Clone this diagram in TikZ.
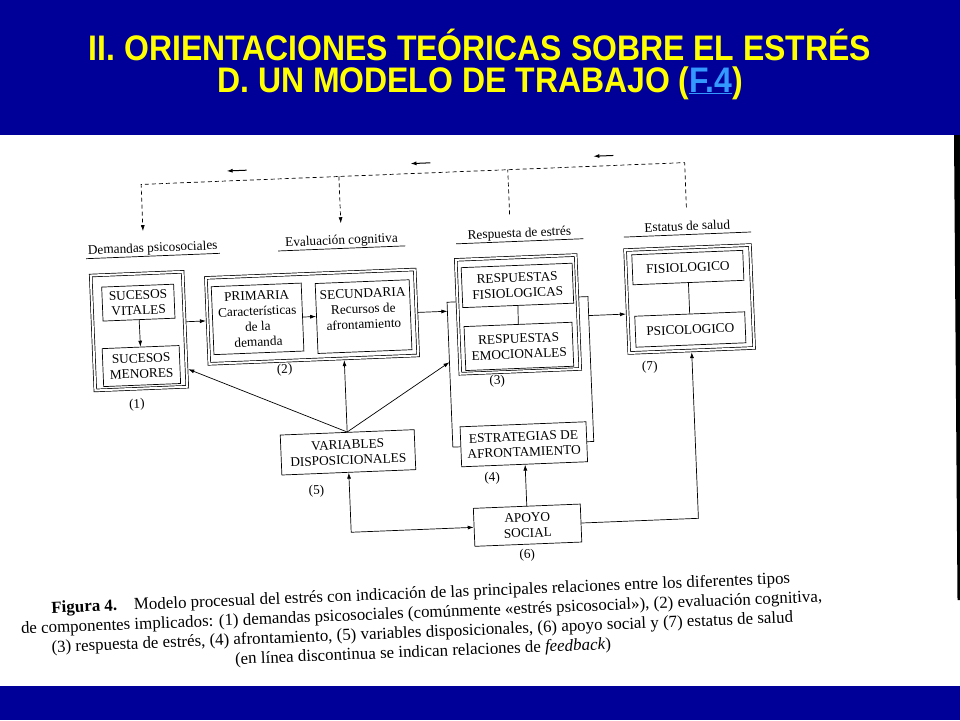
\documentclass[tikz,border=0pt]{standalone}
\usepackage{fontspec}
\usepackage{tikz}
\usetikzlibrary{arrows.meta}

\setmainfont{Liberation Serif}
\newfontfamily\titlefont[FakeStretch=0.9]{Liberation Sans}
\newfontfamily\capfont{Liberation Serif}

\definecolor{slideblue}{RGB}{0,0,153}
\definecolor{linkblue}{RGB}{51,153,255}
\definecolor{titleyellow}{RGB}{255,255,0}

\newcommand\diagfont{\fontsize{13.3}{15.5}\selectfont}

\tikzset{
  bigframe/.style={draw=black, double=white, double distance=2pt, line width=0.7pt, inner sep=0pt, outer sep=1.7pt},
  inbox/.style={draw=black, line width=0.7pt, align=center, inner sep=2pt, font=\diagfont},
  lbl/.style={font=\diagfont, anchor=base, inner sep=2pt, minimum width=127, text height=9pt, text depth=3pt},
  num/.style={font=\diagfont, inner sep=1pt},
  conn/.style={line width=0.7pt},
  fb/.style={conn, dash pattern=on 4pt off 3pt},
  dirarrow/.style={line width=1pt, -{Latex[length=6pt,width=4pt]}},
  titletext/.style={font=\titlefont\bfseries\fontsize{35.5}{40}\selectfont, text=titleyellow, inner sep=0pt},
  capnode/.style={font=\capfont\fontsize{16.9}{19.5}\selectfont, align=center, inner sep=0pt}
}

\begin{document}
\begin{tikzpicture}[x=1pt, y=-1pt, >={Latex[length=6pt,width=4pt]}]

  \useasboundingbox (0,0) rectangle (960,720);
  \fill[slideblue] (0,0) rectangle (960,135);
  \fill[slideblue] (0,686) rectangle (960,720);
  \fill[black] (954,135) -- (960,135) -- (960,600) -- (957.5,600) -- cycle;

  \node[titletext] (title1) at (480,45) {II. ORIENTACIONES TEÓRICAS SOBRE EL ESTRÉS};
  \node[titletext] (title2) at (480,83) {D. UN MODELO DE TRABAJO ({\color{linkblue}\underline{F.4}})};

  \begin{scope}[rotate around={2.3:(480,400)}, transform shape]

  \node[lbl] (demlbl) at (159,239) {Demandas psicosociales};
  \node[lbl] (evalbl) at (348,239) {Evaluación cognitiva};
  \node[lbl] (reslbl) at (526,239) {Respuesta de estrés};
  \node[lbl] (estlbl) at (694,239) {Estatus de salud};
  \foreach \l in {demlbl,evalbl,reslbl,estlbl}
    \draw[conn] ([yshift=-4pt]\l.base west) -- ([yshift=-4pt]\l.base east);

  \node[bigframe, minimum width=92, minimum height=115] (dembox) at (142,317.5) {};
  \node[inbox, minimum width=72, minimum height=34] (vitales) at (142.5,289) {SUCESOS\\VITALES};
  \node[inbox, minimum width=77, minimum height=38] (menores) at (143,352.5) {SUCESOS\\MENORES};
  \node[num] at (137,391) {(1)};

  \node[bigframe, minimum width=209, minimum height=86] (evabox) at (315.5,310) {};
  \node[inbox, minimum width=90, minimum height=68] (primaria) at (261,310) {PRIMARIA\\Características\\de la\\demanda};
  \node[inbox, minimum width=94, minimum height=70] (secundaria) at (367,312) {SECUNDARIA\\Recursos de\\afrontamiento\\\mbox{}};
  \node[num] at (286,362) {(2)};

  \node[bigframe, minimum width=120, minimum height=114] (resbox) at (521.4,316) {};
  \node[inbox, minimum width=111, minimum height=40] (fisresp) at (522,287) {RESPUESTAS\\FISIOLOGICAS};
  \node[inbox, minimum width=108, minimum height=44] (emoresp) at (521,348) {RESPUESTAS\\EMOCIONALES};
  \node[num] at (498,382) {(3)};

  \node[inbox, minimum width=126, minimum height=40] (estrat) at (522,446) {ESTRATEGIAS DE\\AFRONTAMIENTO};
  \node[num] at (489,478.5) {(4)};

  \node[bigframe, minimum width=125, minimum height=103] (salbox) at (693.5,307.5) {};
  \node[inbox, minimum width=111, minimum height=30] (fisio) at (693,276) {FISIOLOGICO};
  \node[inbox, minimum width=110, minimum height=31] (psico) at (693,338) {PSICOLOGICO};
  \node[num] at (651,374) {(7)};

  \node[inbox, minimum width=134, minimum height=40] (varsdisp) at (346,447) {VARIABLES\\DISPOSICIONALES};
  \node[num] at (313,484.5) {(5)};

  \node[inbox, minimum width=107, minimum height=38] (apoyo) at (522.5,527) {APOYO\\SOCIAL};
  \node[num] at (521,557) {(6)};

  \coordinate (fbtop) at (0,171);
  \coordinate (brtl) at (451,301);
  \coordinate (brtr) at (592,301);
  \coordinate (brin) at (451,361);
  \coordinate (brout) at (592,320);

  \draw[conn] (resbox.west |- brtl) -- (brtl) |- (estrat.west);
  \draw[conn] (resbox.east |- brtr) -- (brtr) |- (estrat.east);

  \draw[conn,->] (vitales) -- (menores);
  \draw[conn,->] (dembox.east |- evabox) -- (evabox.west);
  \draw[conn,->] (primaria.east) -- (primaria.east -| secundaria.west);
  \draw[conn,->] (evabox.east) -- (evabox.east -| brtl);
  \draw[conn,->] (brout) -- (brout -| salbox.west);
  \draw[conn] (fisresp) -- (emoresp);
  \draw[conn] (fisio) -- (psico);

  \draw[conn,->] (varsdisp.north) -- ([yshift=-5pt]dembox.east |- menores);
  \draw[conn,->] (varsdisp.north) -- (varsdisp.north |- evabox.south);
  \draw[conn,->] (varsdisp.north) -- (brin);
  \draw[conn,<->] (varsdisp.south) |- (apoyo.west);
  \draw[conn,->] (apoyo.north) -- (apoyo.north |- estrat.south);
  \draw[conn,->] (apoyo.east) -| (salbox.south);

  \draw[fb,->,shorten <=12pt,shorten >=10pt] (estlbl.north) -- (estlbl.north |- fbtop) -| ([xshift=-9pt]demlbl.north);
  \draw[fb,->,shorten >=10pt] (evalbl.north |- fbtop) -- (evalbl.north);
  \draw[fb,shorten <=12pt] ([xshift=-9pt]reslbl.north) -- ([xshift=-9pt]reslbl.north |- fbtop);
  \foreach \x in {246,430,613}
    \draw[dirarrow] (\x+10,161) -- (\x-10,161);

  \node[capnode] (caption) at (413,621) {\textbf{Figura 4.}\quad Modelo procesual del estrés con indicación de las principales relaciones entre los diferentes tipos\\de componentes implicados: (1) demandas psicosociales (comúnmente «estrés psicosocial»), (2) evaluación cognitiva,\\(3) respuesta de estrés, (4) afrontamiento, (5) variables disposicionales, (6) apoyo social y (7) estatus de salud\\(en línea discontinua se indican relaciones de \textit{feedback})};

  \end{scope}

\end{tikzpicture}
\end{document}
